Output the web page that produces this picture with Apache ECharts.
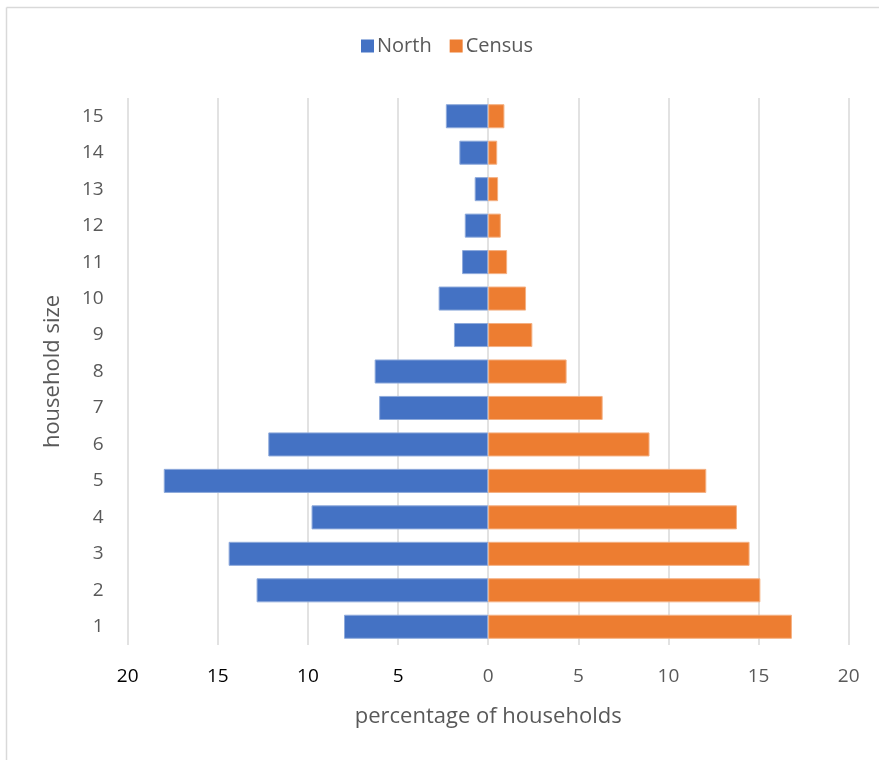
<!DOCTYPE html>
<html>
<head>
<meta charset="utf-8">
<script src="https://cdn.jsdelivr.net/npm/echarts@6/dist/echarts.min.js"></script>
<style>
  html, body { margin: 0; padding: 0; background: #fff; }
  #chart { width: 879px; height: 760px; }
</style>
</head>
<body>
<div id="chart"></div>
<script>
// Household size distribution: North survey vs. Census (percent of households)
const householdSizes = ['1','2','3','4','5','6','7','8','9','10','11','12','13','14','15'];
const northPct  = [8.0, 12.85, 14.4, 9.8, 18.0, 12.2, 6.05, 6.3, 1.9, 2.75, 1.45, 1.3, 0.75, 1.6, 2.35];
const censusPct = [16.85, 15.1, 14.5, 13.8, 12.1, 8.95, 6.35, 4.35, 2.45, 2.1, 1.05, 0.7, 0.55, 0.5, 0.9];
const xTicks = { min: -20, max: 20, step: 5 };

const FONT = '"Open Sans", "Noto Sans", sans-serif';
const GREY = '#595959';

const chart = echarts.init(document.getElementById('chart'), null, { renderer: 'canvas' });

chart.setOption({
  backgroundColor: '#ffffff',
  textStyle: { fontFamily: FONT },
  graphic: [
    { type: 'line', shape: { x1: 6.5, y1: 7.5, x2: 879, y2: 7.5 }, style: { stroke: '#d9d9d9', lineWidth: 1.5 } },
    { type: 'line', shape: { x1: 6.5, y1: 7.5, x2: 6.5, y2: 760 }, style: { stroke: '#d9d9d9', lineWidth: 1.5 } }
  ],
  legend: {
    left: 356,
    top: 31,
    itemWidth: 13,
    itemHeight: 13,
    itemGap: 18,
    icon: 'rect',
    itemStyle: { borderWidth: 0 },
    textStyle: { color: GREY, fontSize: 20, fontFamily: FONT, padding: [0, 0, 0, -2] },
    data: ['North', 'Census']
  },
  grid: { left: 127.7, right: 30.3, top: 98, bottom: 115, containLabel: false },
  xAxis: {
    type: 'value',
    min: xTicks.min,
    max: xTicks.max,
    interval: xTicks.step,
    name: 'percentage of households',
    nameLocation: 'middle',
    nameGap: 61,
    nameTextStyle: { color: GREY, fontSize: 22, fontFamily: FONT },
    axisLine: { show: false },
    axisTick: { show: false },
    splitLine: { show: true, lineStyle: { color: '#d9d9d9', width: 1.5 } },
    axisLabel: {
      color: GREY,
      fontSize: 19,
      fontFamily: FONT,
      margin: 22,
      formatter: v => v < 0 ? '{neg|' + Math.abs(v) + '}' : String(v),
      rich: { neg: { color: '#000000', fontSize: 19, fontFamily: FONT } }
    }
  },
  yAxis: {
    type: 'category',
    data: householdSizes,
    name: 'household size',
    nameLocation: 'middle',
    nameGap: 64,
    nameRotate: 90,
    nameTextStyle: { color: GREY, fontSize: 22, fontFamily: FONT },
    axisLine: { show: false },
    axisTick: { show: false },
    axisLabel: { color: GREY, fontSize: 19, fontFamily: FONT, margin: 24 }
  },
  series: [
    {
      name: 'North',
      type: 'bar',
      barGap: '-100%',
      barCategoryGap: '34%',
      data: northPct.map(v => -v),
      itemStyle: { color: '#4472C4', borderColor: '#8eaadb', borderWidth: 1 },
      animation: false
    },
    {
      name: 'Census',
      type: 'bar',
      barGap: '-100%',
      barCategoryGap: '34%',
      data: censusPct,
      itemStyle: { color: '#ED7D31', borderColor: '#f4b183', borderWidth: 1 },
      animation: false
    }
  ]
});
</script>
</body>
</html>
